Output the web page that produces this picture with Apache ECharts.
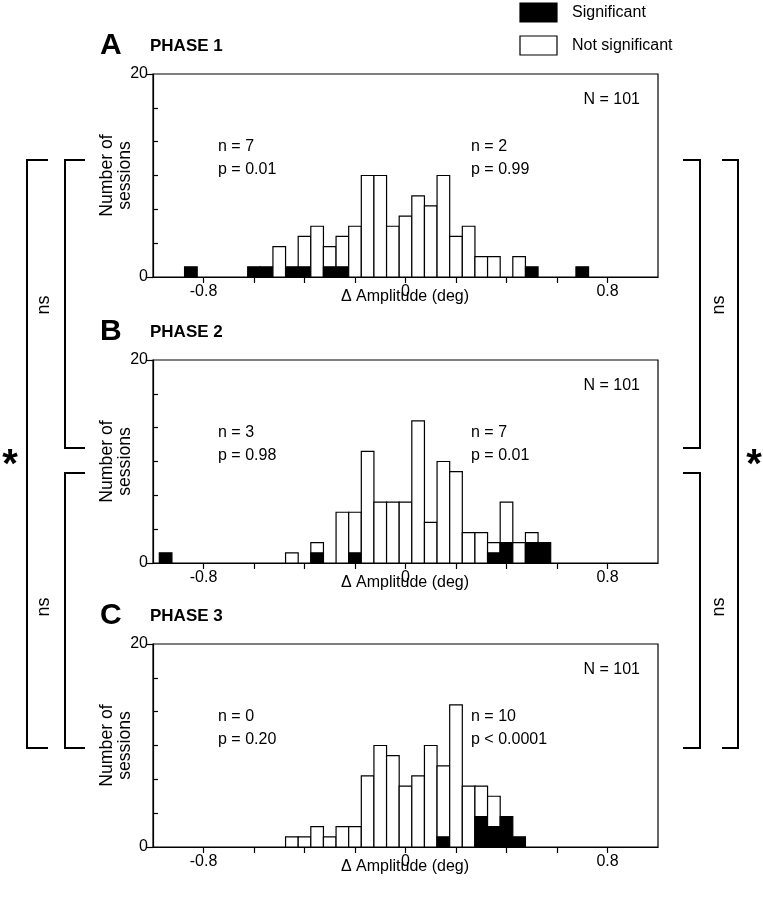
<!DOCTYPE html>
<html><head><meta charset="utf-8">
<script src="https://cdn.jsdelivr.net/npm/echarts@6/dist/echarts.min.js"></script>
<style>html,body{margin:0;padding:0;background:#fff}#c{width:763px;height:897px}</style>
</head><body><div id="c"></div>
<script>
// ---- data (bin centres in deg, counts per bin) ----
const BIN_WIDTH = 0.05;
const phase1Bins  = [-0.85,-0.60,-0.55,-0.50,-0.45,-0.40,-0.35,-0.30,-0.25,-0.20,-0.15,-0.10,-0.05,0.00,0.05,0.10,0.15,0.20,0.25,0.30,0.35,0.45,0.50,0.70];
const phase1Total = [1,1,1,3,1,4,5,3,4,5,10,10,5,6,8,7,10,4,5,2,2,2,1,1];
const phase1Sig   = [1,1,1,0,1,1,0,1,1,0,0,0,0,0,0,0,0,0,0,0,0,0,1,1];

const phase2Bins  = [-0.95,-0.45,-0.35,-0.25,-0.20,-0.15,-0.10,-0.05,0.00,0.05,0.10,0.15,0.20,0.25,0.30,0.35,0.40,0.45,0.50,0.55];
const phase2Total = [1,1,2,5,5,11,6,6,6,14,4,10,9,3,3,2,6,2,3,2];
const phase2Sig   = [1,0,1,0,1,0,0,0,0,0,0,0,0,0,0,1,2,0,2,2];

const phase3Bins  = [-0.45,-0.40,-0.35,-0.30,-0.25,-0.20,-0.15,-0.10,-0.05,0.00,0.05,0.10,0.15,0.20,0.25,0.30,0.35,0.40,0.45];
const phase3Total = [1,1,2,1,2,2,7,10,9,6,7,10,8,14,6,6,5,3,1];
const phase3Sig   = [0,0,0,0,0,0,0,0,0,0,0,0,1,0,0,3,2,3,1];

const panelLetters = ['A','B','C'];
const panelTitles  = ['PHASE 1','PHASE 2','PHASE 3'];
const panelN       = ['N = 101','N = 101','N = 101'];
const leftStats    = [['n = 7','p = 0.01'],['n = 3','p = 0.98'],['n = 0','p = 0.20']];
const rightStats   = [['n = 2','p = 0.99'],['n = 7','p = 0.01'],['n = 10','p < 0.0001']];
const xTickValues  = [-0.8,-0.6,-0.4,-0.2,0,0.2,0.4,0.6,0.8];
const xLabelValues = [-0.8,0,0.8];
const yLabelValues = [0,20];
const yMinorValues = [10/3,20/3,10,40/3,50/3];
const legendLabels = ['Significant','Not significant'];
const xName = 'Δ Amplitude (deg)';
const yName = 'Number of\nsessions';

const panels = [
  {bins:phase1Bins,total:phase1Total,sig:phase1Sig},
  {bins:phase2Bins,total:phase2Total,sig:phase2Sig},
  {bins:phase3Bins,total:phase3Total,sig:phase3Sig}
];

// ---- layout ----
const FONT = 'Liberation Sans, Arial, sans-serif';
const GL = 153, GW = 505, GH = 203;
const GT = [74, 360, 644];

const chart = echarts.init(document.getElementById('c'), null, {renderer:'canvas'});

const grids = [], xAxes = [], yAxes = [], series = [], graphics = [];
panels.forEach((p, i) => {
  grids.push({left:GL, top:GT[i], width:GW, height:GH, show:true, borderColor:'#000', borderWidth:1.2, backgroundColor:'rgba(0,0,0,0)'});
  xAxes.push({
    type:'value', gridIndex:i, min:-1, max:1,
    axisLine:{onZero:false, lineStyle:{color:'#000', width:1.2}},
    axisTick:{show:true, length:6, customValues:xTickValues, lineStyle:{color:'#000', width:1.2}},
    axisLabel:{customValues:xLabelValues, color:'#000', fontSize:16, fontFamily:FONT, margin:7,
      formatter:v => (Math.abs(v) < 1e-9 ? '0' : v.toFixed(1))},
    splitLine:{show:false}
  });
  yAxes.push({
    type:'value', gridIndex:i, min:0, max:20, position:'left',
    axisLine:{show:true, onZero:false, lineStyle:{color:'#000', width:1.2}},
    axisTick:{show:true, length:6, customValues:yLabelValues, lineStyle:{color:'#000', width:1.2}},
    axisLabel:{customValues:yLabelValues, color:'#000', fontSize:16, fontFamily:FONT, margin:5},
    splitLine:{show:false}
  });
  yAxes.push({
    type:'value', gridIndex:i, min:0, max:20, position:'left',
    axisLine:{show:false, onZero:false},
    axisTick:{show:true, inside:true, length:5, customValues:yMinorValues, lineStyle:{color:'#000', width:1.2}},
    axisLabel:{show:false}, splitLine:{show:false}
  });
  series.push({
    type:'custom', xAxisIndex:i, yAxisIndex:2*i,
    data:p.bins.map((b,j) => [b, p.total[j], p.sig[j]]),
    renderItem:(params, api) => {
      const c = api.value(0), t = api.value(1), s = api.value(2);
      const bl = api.coord([c - BIN_WIDTH/2, 0]);
      const tr = api.coord([c + BIN_WIDTH/2, t]);
      const sr = api.coord([c + BIN_WIDTH/2, s]);
      const ch = [];
      if (t > s) ch.push({type:'rect', shape:{x:bl[0], y:tr[1], width:tr[0]-bl[0], height:bl[1]-tr[1]},
        style:{fill:'#fff', stroke:'#000', lineWidth:1.2}});
      if (s > 0) ch.push({type:'rect', shape:{x:bl[0], y:sr[1], width:sr[0]-bl[0], height:bl[1]-sr[1]},
        style:{fill:'#000', stroke:'#000', lineWidth:1.2}});
      return {type:'group', children:ch};
    }
  });

  const top = GT[i];
  graphics.push({type:'text', left:100, top:top-43, style:{text:panelLetters[i], font:'bold 30px '+FONT, fill:'#000'}});
  graphics.push({type:'text', left:150, top:top-36, style:{text:panelTitles[i], font:'bold 17px '+FONT, fill:'#000'}});
  graphics.push({type:'text', right:763-640, top:top+18, style:{text:panelN[i], font:'16px '+FONT, fill:'#000'}});
  graphics.push({type:'text', left:218, top:top+61, style:{text:leftStats[i].join('\n'), font:'16px '+FONT, fill:'#000', lineHeight:23}});
  graphics.push({type:'text', left:471, top:top+61, style:{text:rightStats[i].join('\n'), font:'16px '+FONT, fill:'#000', lineHeight:23}});
  graphics.push({type:'text', x:405, y:top+GH+20, style:{text:xName, font:'16px '+FONT, fill:'#000', align:'center', verticalAlign:'middle'}});
  graphics.push({type:'text', x:116, y:top+GH/2, rotation:Math.PI/2, scaleX:0.93,
    style:{text:yName, font:'19px '+FONT, fill:'#000', align:'center', verticalAlign:'middle', lineHeight:18}});
});

// legend
graphics.push({type:'rect', shape:{x:520, y:3, width:37, height:19}, style:{fill:'#000', stroke:'#000', lineWidth:1.2}});
graphics.push({type:'rect', shape:{x:520, y:36, width:37, height:19}, style:{fill:'#fff', stroke:'#000', lineWidth:1.2}});
graphics.push({type:'text', x:572, y:13, style:{text:legendLabels[0], font:'16px '+FONT, fill:'#000', verticalAlign:'middle'}});
graphics.push({type:'text', x:572, y:46, style:{text:legendLabels[1], font:'16px '+FONT, fill:'#000', verticalAlign:'middle'}});

// significance brackets
const br = (pts) => ({type:'polyline', shape:{points:pts}, style:{stroke:'#000', lineWidth:2, fill:null}});
graphics.push(br([[48,160],[27,160],[27,748],[48,748]]));
graphics.push(br([[85,160],[65,160],[65,448],[85,448]]));
graphics.push(br([[85,473],[65,473],[65,748],[85,748]]));
graphics.push(br([[683,160],[700,160],[700,448],[683,448]]));
graphics.push(br([[683,473],[700,473],[700,748],[683,748]]));
graphics.push(br([[722,160],[738,160],[738,748],[722,748]]));
[[44,305],[44,607],[719,305],[719,607]].forEach(([x,y]) => {
  graphics.push({type:'text', x:x, y:y, rotation:Math.PI/2, style:{text:'ns', font:'18px '+FONT, fill:'#000', align:'center', verticalAlign:'middle'}});
});
[[10,466],[754,466]].forEach(([x,y]) => {
  graphics.push({type:'text', x:x, y:y, style:{text:'*', font:'bold 40px '+FONT, fill:'#000', align:'center', verticalAlign:'middle'}});
});

chart.setOption({
  animation:false,
  backgroundColor:'#fff',
  grid:grids, xAxis:xAxes, yAxis:yAxes, series:series,
  graphic:{elements:graphics}
});
</script></body></html>
